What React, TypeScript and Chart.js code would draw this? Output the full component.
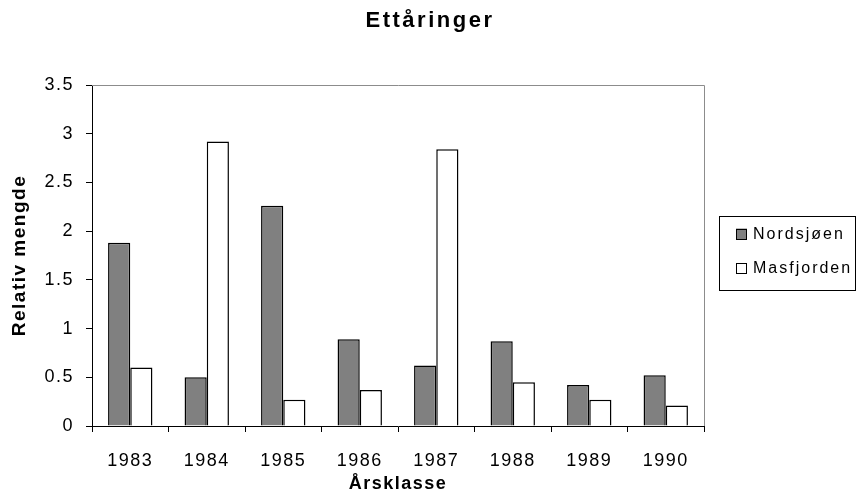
import React, { useEffect, useRef } from "react";
import { Chart, registerables } from "chart.js";

Chart.register(...registerables);

const categories = ["1983", "1984", "1985", "1986", "1987", "1988", "1989", "1990"];
const nordsjoen = [1.88, 0.5, 2.26, 0.89, 0.62, 0.87, 0.42, 0.52];
const masfjorden = [0.6, 2.92, 0.27, 0.37, 2.84, 0.45, 0.27, 0.21];
const seriesNames = ["Nordsjøen", "Masfjorden"];
const chartTitle = "Ettåringer";
const xTitle = "Årsklasse";
const yTitle = "Relativ mengde";

const FONT = '"Liberation Sans", Arial, sans-serif';
const LS = "1.5px";

const spacingPlugin = {
  id: "spacing",
  beforeLayout(chart: any) {
    chart.ctx.letterSpacing = LS;
  },
  beforeDraw(chart: any) {
    chart.ctx.letterSpacing = LS;
  },
};

const framePlugin = {
  id: "frame",
  beforeDatasetsDraw(chart: any) {
    const { ctx, chartArea } = chart;
    const { left, right, top, bottom } = chartArea;
    ctx.save();
    ctx.strokeStyle = "#8c8c8c";
    ctx.lineWidth = 1;
    ctx.beginPath();
    ctx.moveTo(left, Math.round(top) + 0.5);
    ctx.lineTo(Math.round(right) + 0.5, Math.round(top) + 0.5);
    ctx.lineTo(Math.round(right) + 0.5, bottom);
    ctx.stroke();
    ctx.restore();
  },
};

const titlePlugin = {
  id: "centerTitle",
  afterDraw(chart: any) {
    const { ctx } = chart;
    ctx.save();
    ctx.letterSpacing = "2.5px";
    ctx.font = `bold 22px ${FONT}`;
    ctx.fillStyle = "#000";
    ctx.textAlign = "center";
    ctx.textBaseline = "middle";
    ctx.fillText(chartTitle, chart.width / 2 + 1, 21);
    ctx.restore();
  },
};

const legendPlugin = {
  id: "boxLegend",
  afterDraw(chart: any) {
    const { ctx, chartArea } = chart;
    const ds = chart.data.datasets;
    const rowH = 34;
    const sq = 11;
    const boxL = Math.round(chartArea.right) + 15;
    const boxR = chart.width - 3;
    const midY = Math.round((chartArea.top + chartArea.bottom) / 2) - 5;
    const boxT = midY - 35;
    const boxB = midY + 39;
    ctx.save();
    ctx.letterSpacing = "2px";
    ctx.strokeStyle = "#000";
    ctx.lineWidth = 1;
    ctx.strokeRect(boxL + 0.5, boxT + 0.5, boxR - boxL, boxB - boxT);
    ctx.font = `16px ${FONT}`;
    ctx.textBaseline = "middle";
    ctx.textAlign = "left";
    ds.forEach((d: any, i: number) => {
      const cy = Math.round(midY + (i - (ds.length - 1) / 2) * rowH);
      const sx = boxL + 17;
      ctx.fillStyle = d.backgroundColor;
      ctx.fillRect(sx, cy - sq / 2, sq, sq);
      ctx.strokeStyle = "#000";
      ctx.strokeRect(sx + 0.5, Math.round(cy - sq / 2) + 0.5, sq - 1, sq - 1);
      ctx.fillStyle = "#000";
      ctx.fillText(d.label, sx + sq + 6, cy + 1);
    });
    ctx.restore();
  },
};

export default function App() {
  const ref = useRef<HTMLCanvasElement | null>(null);

  useEffect(() => {
    if (!ref.current) return;
    const chart = new Chart(ref.current, {
      type: "bar",
      data: {
        labels: categories,
        datasets: [
          {
            label: seriesNames[0],
            data: nordsjoen,
            backgroundColor: "#808080",
            borderColor: "#000",
            borderWidth: 1.5,
            categoryPercentage: 0.58,
            barPercentage: 1,
          },
          {
            label: seriesNames[1],
            data: masfjorden,
            backgroundColor: "#ffffff",
            borderColor: "#000",
            borderWidth: 1.5,
            categoryPercentage: 0.58,
            barPercentage: 1,
          },
        ],
      },
      options: {
        responsive: false,
        animation: false,
        layout: { padding: { left: 0, top: 85, bottom: 0, right: 154 } },
        plugins: {
          legend: { display: false },
          tooltip: { enabled: false },
          title: { display: false },
        },
        scales: {
          x: {
            grid: {
              display: true,
              drawOnChartArea: false,
              drawTicks: true,
              tickLength: 6,
              color: "#000",
              offset: true,
            },
            border: { display: true, color: "#000", width: 1 },
            ticks: {
              color: "#000",
              font: { family: FONT, size: 18 },
              padding: 18,
              maxRotation: 0,
            },
            title: {
              display: true,
              text: xTitle,
              color: "#000",
              font: { family: FONT, size: 18, weight: "bold", lineHeight: 1 },
              padding: { top: 0, bottom: 0 },
            },
            afterFit(s: any) {
              s.height = 67;
            },
          },
          y: {
            min: 0,
            max: 3.5,
            ticks: {
              stepSize: 0.5,
              color: "#000",
              font: { family: FONT, size: 18 },
              padding: 12,
              callback: (v: any) => `${Number(v)}`,
            },
            grid: {
              drawOnChartArea: false,
              drawTicks: true,
              tickLength: 6,
              color: "#000",
            },
            border: { display: true, color: "#000", width: 1 },
            title: {
              display: true,
              text: yTitle,
              color: "#000",
              font: { family: FONT, size: 19, weight: "bold", lineHeight: 1.2 },
              padding: { top: 8, bottom: 0 },
            },
            afterFit(s: any) {
              s.width = 92;
            },
          },
        },
      } as any,
      plugins: [spacingPlugin, framePlugin, titlePlugin, legendPlugin],
    });
    return () => chart.destroy();
  }, []);

  return (
    <div style={{ position: "absolute", left: 0, top: 0, width: 858, height: 493, background: "#fff" }}>
      <canvas ref={ref} width={858} height={493} style={{ display: "block" }} />
    </div>
  );
}
